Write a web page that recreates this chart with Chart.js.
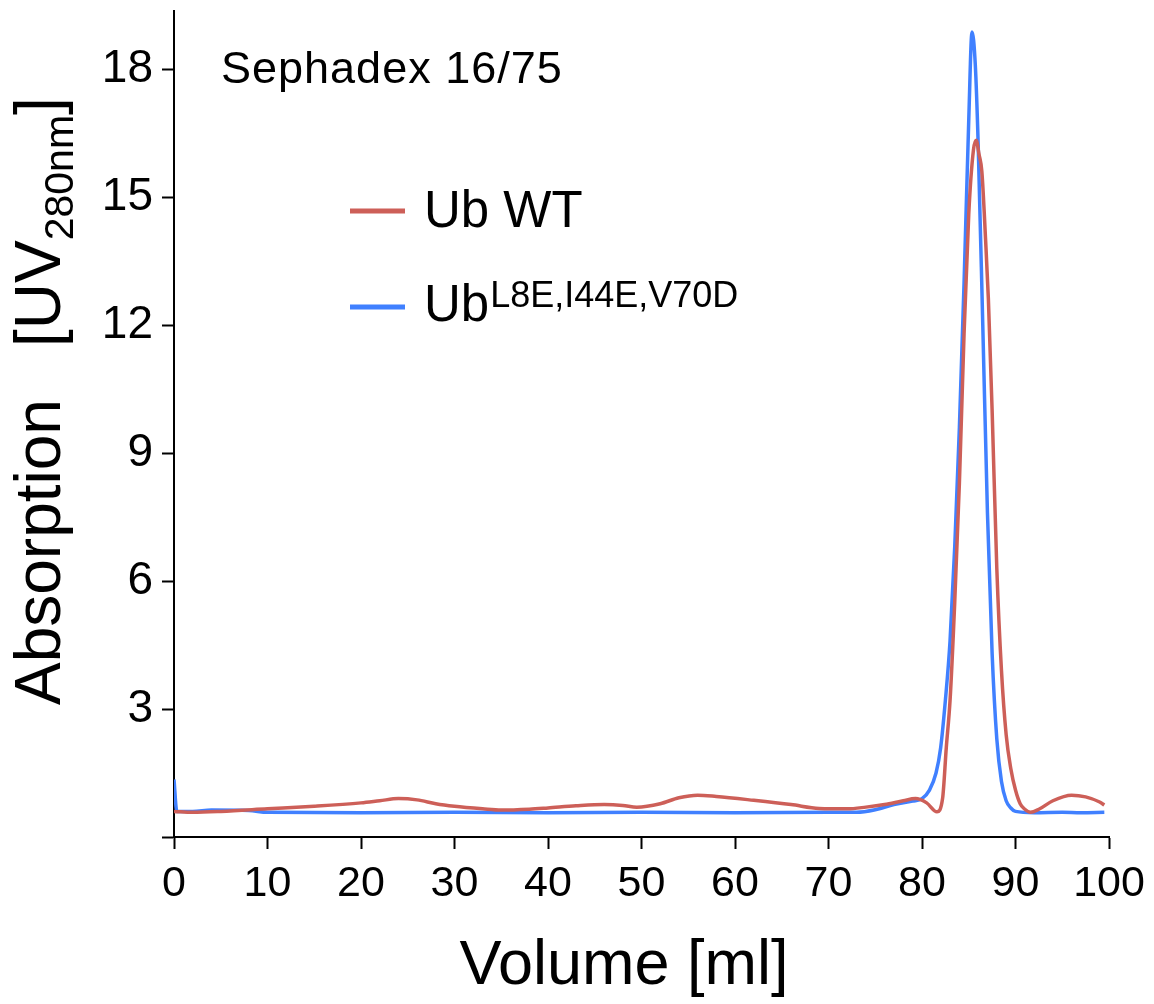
<!DOCTYPE html>
<html>
<head>
<meta charset="utf-8">
<script src="https://cdn.jsdelivr.net/npm/chart.js@4/dist/chart.umd.min.js"></script>
<style>
  body { margin: 0; background: #fff; }
  canvas { display: block; }
</style>
</head>
<body>
<canvas id="myChart" width="1154" height="1004"></canvas>
<script>
const FONT = '"Liberation Sans", Arial, Helvetica, sans-serif';

// Ub WT trace (red)
const volWT = [0, 2, 5, 10, 15, 20, 22, 24, 26, 28, 30, 33, 35, 38, 40, 43, 46, 48, 49.5, 52, 54, 56, 58, 62, 66, 69, 72, 74, 76, 78, 79.3, 80.5, 81.6, 82.2, 82.6, 83, 83.5, 84, 84.5, 85, 85.5, 85.8, 86.1, 86.4, 86.8, 87.1, 87.5, 88, 88.5, 89, 89.5, 90, 90.5, 91, 91.6, 92.5, 94, 96, 97.5, 99, 99.5];
const absWT = [0.6, 0.58, 0.6, 0.66, 0.72, 0.8, 0.85, 0.9, 0.87, 0.78, 0.72, 0.66, 0.63, 0.65, 0.68, 0.73, 0.76, 0.74, 0.7, 0.78, 0.92, 0.98, 0.95, 0.86, 0.76, 0.67, 0.66, 0.7, 0.76, 0.85, 0.9, 0.8, 0.59, 0.9, 2.1, 3.2, 5.5, 8.3, 11.8, 14.6, 16.1, 16.33, 16.0, 15.6, 14.0, 12.6, 10.0, 6.3, 3.9, 2.4, 1.6, 1.1, 0.78, 0.65, 0.58, 0.65, 0.85, 0.98, 0.94, 0.82, 0.75];

// Ub L8E,I44E,V70D trace (blue)
const volMut = [0, 0.3, 2, 4, 8, 10, 20, 30, 40, 50, 60, 70, 73, 75, 77, 79, 80, 80.8, 81.5, 82, 82.5, 83, 83.5, 84, 84.5, 85, 85.35, 85.7, 86, 86.5, 87, 87.5, 88, 88.5, 89, 89.5, 90, 92, 95, 97, 99.5];
const absMut = [1.35, 0.6, 0.6, 0.63, 0.62, 0.58, 0.57, 0.58, 0.57, 0.58, 0.57, 0.58, 0.58, 0.64, 0.76, 0.84, 0.9, 1.1, 1.5, 2.1, 3.2, 4.6, 6.8, 9.6, 13.0, 16.8, 18.87, 18.1, 16.3, 12.0, 7.6, 4.3, 2.3, 1.3, 0.85, 0.68, 0.6, 0.57, 0.58, 0.57, 0.58];

const xTicks = [0, 10, 20, 30, 40, 50, 60, 70, 80, 90, 100];
const yTicks = [0, 3, 6, 9, 12, 15, 18];

const RED = '#CD5F58';
const BLUE = '#4080FF';

const toPoints = function (xs, ys) {
    let pts = [];
    for (let i = 0; i < xs.length; i++) {
        pts.push({ x: xs[i], y: ys[i] });
    }
    return pts;
};

// texts that Chart.js can't do itself (sub/superscripts, inset legend)
const annotations = {
    id: 'annotations',
    afterDraw(chart) {
        const ctx = chart.ctx;
        ctx.save();
        ctx.fillStyle = '#000';
        ctx.textBaseline = 'alphabetic';
        ctx.textAlign = 'left';

        // column label
        ctx.font = '45px ' + FONT;
        ctx.letterSpacing = '1px';
        ctx.fillText('Sephadex 16/75', 221, 83);
        ctx.letterSpacing = '0px';

        // x axis title (sits a bit left of the plot centre)
        ctx.font = '63px ' + FONT;
        ctx.textAlign = 'center';
        ctx.fillText('Volume [ml]', 624, 984);
        ctx.textAlign = 'left';

        // legend
        ctx.lineWidth = 5;
        ctx.strokeStyle = RED;
        ctx.beginPath(); ctx.moveTo(350, 211); ctx.lineTo(405, 211); ctx.stroke();
        ctx.strokeStyle = BLUE;
        ctx.beginPath(); ctx.moveTo(350, 307); ctx.lineTo(405, 307); ctx.stroke();
        ctx.font = '51px ' + FONT;
        ctx.fillText('Ub WT', 424, 227);
        ctx.fillText('Ub', 424, 321);
        let w = ctx.measureText('Ub').width;
        ctx.font = '36px ' + FONT;
        ctx.fillText('L8E,I44E,V70D', 424 + w + 1, 307);

        // y axis title, rotated
        ctx.translate(60, 705);
        ctx.rotate(-Math.PI / 2);
        ctx.font = '64px ' + FONT;
        ctx.fillText('Absorption', 0, 0);
        let pos = 358;
        ctx.fillText('[UV', pos, 0);
        pos += ctx.measureText('[UV').width;
        ctx.font = '41px ' + FONT;
        ctx.fillText('280nm', pos, 13);
        pos += ctx.measureText('280nm').width;
        ctx.font = '64px ' + FONT;
        ctx.fillText(']', pos, 0);
        ctx.restore();
    }
};

const ctx = document.getElementById('myChart').getContext('2d');
const myChart = new Chart(ctx, {
    type: 'line',
    data: {
        datasets: [{
            label: 'Ub WT',
            data: toPoints(volWT, absWT),
            borderColor: RED,
            borderWidth: 3.5,
            pointRadius: 0,
            cubicInterpolationMode: 'monotone',
            fill: false
        }, {
            label: 'Ub L8E,I44E,V70D',
            data: toPoints(volMut, absMut),
            borderColor: BLUE,
            borderWidth: 3.5,
            pointRadius: 0,
            cubicInterpolationMode: 'monotone',
            fill: false
        }]
    },
    options: {
        responsive: false,
        animation: false,
        events: [],
        layout: { padding: { top: 11, right: 45, bottom: 0, left: 0 } },
        plugins: {
            legend: { display: false },
            tooltip: { enabled: false }
        },
        scales: {
            x: {
                type: 'linear',
                min: 0,
                max: 100,
                afterBuildTicks: function (scale) {
                    scale.ticks = xTicks.map(v => ({ value: v }));
                },
                afterFit: function (scale) {
                    scale.height = 167;
                    scale.paddingLeft = 0;
                    scale.paddingRight = 0;
                },
                border: { display: true, color: '#000', width: 2 },
                grid: { drawOnChartArea: false, drawTicks: true, tickLength: 12, tickWidth: 2, tickColor: '#000' },
                ticks: {
                    color: '#000',
                    font: { family: FONT, size: 43 },
                    padding: 9,
                    maxRotation: 0,
                    autoSkip: false
                }
            },
            y: {
                type: 'linear',
                min: 0,
                max: 19.36,
                afterBuildTicks: function (scale) {
                    scale.ticks = yTicks.map(v => ({ value: v }));
                },
                afterFit: function (scale) {
                    scale.width = 174;
                    scale.paddingTop = 0;
                    scale.paddingBottom = 0;
                },
                border: { display: true, color: '#000', width: 2 },
                grid: { drawOnChartArea: false, drawTicks: true, tickLength: 12, tickWidth: 2, tickColor: '#000' },
                ticks: {
                    color: '#000',
                    font: { family: FONT, size: 46 },
                    padding: 9,
                    callback: function (v) { return v === 0 ? '' : v; }
                }
            }
        }
    },
    plugins: [annotations]
});
</script>
</body>
</html>
